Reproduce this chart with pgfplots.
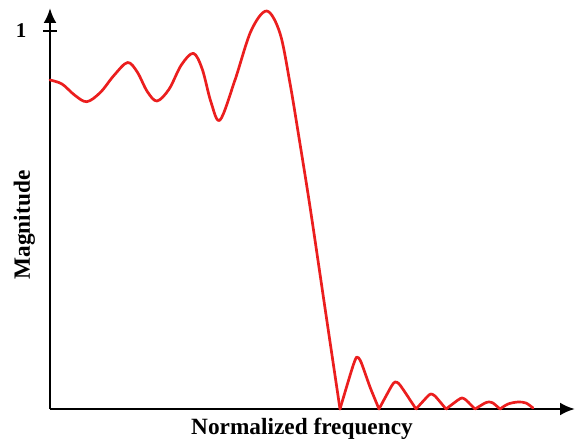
\documentclass[border=0pt]{standalone}
\usepackage{fontspec}
\setmainfont{Liberation Serif}
\usepackage{pgfplots}
\pgfplotsset{compat=1.18}
\usetikzlibrary{arrows.meta}
\definecolor{curvered}{RGB}{235,30,30}

\begin{document}
\begin{tikzpicture}
\begin{axis}[
  x=1pt,y=1pt,
  xmin=0,xmax=525,ymin=0,ymax=401,
  enlargelimits=false,
  axis lines=left,
  axis line style={line width=2.7pt,-{Latex[length=15pt,width=13pt]}},
  xtick=\empty,
  ytick={378},yticklabels={\textbf{1}},
  major tick length=14pt,tick align=center,
  tick style={line width=2.7pt,black},
  yticklabel style={font=\fontsize{21}{24}\selectfont,xshift=-13pt},
  xlabel={\textbf{Normalized frequency}},
  ylabel={\textbf{Magnitude}},
  label style={font=\fontsize{23.3}{27}\selectfont},
  xlabel style={at={(rel axis cs:0.48,-0.05)},anchor=center},
  ylabel style={at={(rel axis cs:-0.049,0.459)},anchor=center,rotate=0},
  clip=false,
  every axis plot/.append style={line join=round,line cap=round},
]
% passband and transition
\addplot[curvered,line width=2.7pt,smooth,tension=0.55] coordinates {
 (0,329) (12,325) (24.5,314) (36.7,307.3)
 (50.3,316.5) (63.9,333.5) (77.5,346.5)
 (87.3,336.9) (97.2,317.6) (107,308)
 (119.1,319.9) (131.2,343.8) (143.3,355.7)
 (152.2,340) (161.1,306.5) (170,289)
 (185,329) (201,378) (216.7,398)
 (230,375.7) (240,325.7) (248.3,275.7) (260,202.3) (275,101) (290,0)};
% stopband lobes
\addplot[curvered,line width=2.7pt,smooth,tension=0.4] coordinates {
 (290,0) (302,40) (306.7,52) (311,47) (320,22) (329,0)};
\addplot[curvered,line width=2.7pt,smooth,tension=0.4] coordinates {
 (329,0) (341,22) (345,27) (350,24) (366,0)};
\addplot[curvered,line width=2.7pt,smooth,tension=0.4] coordinates {
 (366,0) (377,12) (380.7,15) (385,13) (396,0)};
\addplot[curvered,line width=2.7pt,smooth,tension=0.4] coordinates {
 (396,0) (408,9) (412,11) (416,9) (425,0)};
\addplot[curvered,line width=2.7pt,smooth,tension=0.4] coordinates {
 (425,0) (435,6) (439,7) (443,6) (450,0)};
\addplot[curvered,line width=2.7pt,smooth,tension=0.5] coordinates {
 (450,0) (458,5) (468,7) (476,6) (483,1)};
\coordinate (ll) at (axis cs:-50,-31);
\coordinate (ur) at (axis cs:525,409);
\end{axis}
\pgfresetboundingbox
\path (ll) rectangle (ur);
\end{tikzpicture}
\end{document}
